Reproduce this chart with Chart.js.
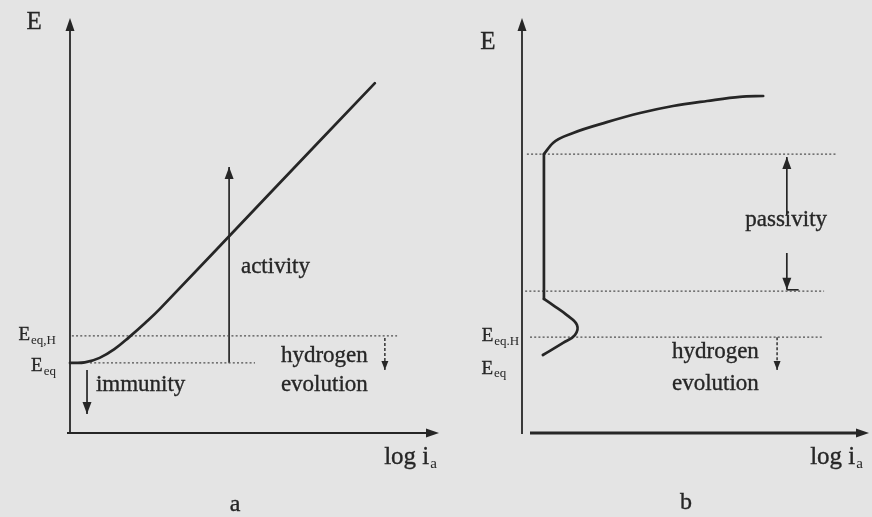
<!DOCTYPE html>
<html>
<head>
<meta charset="utf-8">
<script src="https://cdn.jsdelivr.net/npm/chart.js@4.4.1/dist/chart.umd.min.js"></script>
<style>
  html, body { margin: 0; padding: 0; background: #e4e4e4; }
  #wrap { position: relative; width: 872px; height: 517px; overflow: hidden; background: #e4e4e4; }
  canvas { position: absolute; top: 0; }
</style>
</head>
<body>
<div id="wrap">
  <canvas id="panelA" width="440" height="517" style="left:0px"></canvas>
  <canvas id="panelB" width="432" height="517" style="left:440px"></canvas>
</div>
<script>
// ---- Panel a: active metal (E vs log i_a) ----
const curveA_logI = [0, 0.4, 0.8, 1.2, 1.6, 2.03, 2.43, 5.32, 8.24];
const curveA_E    = [1.69, 1.70, 1.81, 2.02, 2.31, 2.65, 2.99, 5.70, 8.43];
const eqA  = 1.69;          // E_eq
const eqHA = 2.34;          // E_eq,H
const eqSpanA  = [0.54, 5.0];
const eqHSpanA = [0.05, 8.84];
const activityA = [4.30, 6.41];      // log i, top of arrow
const immunityA = [0.46, 1.52, 0.46]; // log i, from, to
const hydrogenA = [8.51, 2.29, 1.52];

// ---- Panel b: passivating metal ----
// points 0..6: active loop, 6..7: passive plateau, 7..end: transpassive branch
const curveB_logI = [0.60, 1.18, 1.52, 1.58, 1.29, 0.89, 0.63, 0.63, 0.89, 1.47, 2.44, 3.39, 4.34, 5.32, 6.26, 6.93];
const curveB_E    = [1.88, 2.17, 2.36, 2.60, 2.84, 3.08, 3.23, 6.72, 6.99, 7.23, 7.49, 7.71, 7.88, 8.00, 8.10, 8.12];
const passTopB = 6.72;
const passEndB = 3.42;
const eqHB     = 2.31;
const passTopSpanB = [0.14, 9.05];
const passEndSpanB = [0.09, 8.68];
const eqHSpanB     = [0.23, 8.62];
const passivityB = [7.61, 5.25, 6.65, 4.34, 3.45]; // log i, up-from, up-to, down-from, down-to
const passTickB  = [7.61, 7.95];
const hydrogenB  = [7.33, 2.31, 1.52];

const ink = '#262626';
const dotInk = '#4e4e4e';
const serif = '"Liberation Serif", "DejaVu Serif", serif';

function pts(xs, ys) { return xs.map((x, i) => ({ x, y: ys[i] })); }
function hline(y, span) { return [{ x: span[0], y }, { x: span[1], y }]; }
function vline(x, y0, y1) { return [{ x, y: y0 }, { x, y: y1 }]; }

function curve(data, tension, mode) {
  return { data, showLine: true, borderColor: ink, borderWidth: 2.7, pointRadius: 0,
           tension, cubicInterpolationMode: mode || 'default', clip: false,
           borderCapStyle: 'round', borderJoinStyle: 'round' };
}
function dotted(data) {
  return { data, showLine: true, borderColor: dotInk, borderWidth: 1.3, borderDash: [2, 2.2],
           pointRadius: 0, tension: 0, clip: false };
}
function arrow(data, dashed) {
  return { data, showLine: true, borderColor: ink, borderWidth: dashed ? 1.4 : 1.7,
           borderDash: dashed ? [3, 2] : [], pointRadius: 0, tension: 0, clip: false, arrow: true };
}

function arrowHead(ctx, x0, y0, x1, y1, len, half) {
  const a = Math.atan2(y1 - y0, x1 - x0);
  const c = Math.cos(a), s = Math.sin(a);
  ctx.save();
  ctx.fillStyle = ink;
  ctx.beginPath();
  ctx.moveTo(x1, y1);
  ctx.lineTo(x1 - len * c + half * s, y1 - len * s - half * c);
  ctx.lineTo(x1 - len * c - half * s, y1 - len * s + half * c);
  ctx.closePath();
  ctx.fill();
  ctx.restore();
}

function drawText(ctx, lab, px, py) {
  const size = lab.size, subSize = lab.subSize || Math.round(size * 0.62);
  ctx.font = `${size}px ${serif}`;
  const w1 = ctx.measureText(lab.text).width;
  let w2 = 0;
  if (lab.sub) { ctx.font = `${subSize}px ${serif}`; w2 = ctx.measureText(lab.sub).width; }
  const total = w1 + (lab.sub ? w2 + 1 : 0);
  let x0 = px;
  if (lab.align === 'center') x0 = px - total / 2;
  else if (lab.align === 'right') x0 = px - total;
  ctx.fillStyle = ink;
  ctx.strokeStyle = ink;
  ctx.lineWidth = 0.35;
  ctx.textBaseline = 'middle';
  ctx.textAlign = 'left';
  ctx.font = `${size}px ${serif}`;
  ctx.fillText(lab.text, x0, py);
  ctx.strokeText(lab.text, x0, py);
  if (lab.sub) {
    ctx.font = `${subSize}px ${serif}`;
    ctx.fillText(lab.sub, x0 + w1 + 1, py + size * 0.28);
  }
}

function figurePlugin(labels, axisStyle) {
  return {
    id: 'figure',
    beforeDatasetsDraw(chart) {
      const { ctx, chartArea: a } = chart;
      ctx.save();
      ctx.strokeStyle = ink;
      // vertical E axis
      ctx.lineWidth = axisStyle.yWidth;
      ctx.beginPath();
      ctx.moveTo(a.left, a.bottom + 1);
      ctx.lineTo(a.left, a.top + 8);
      ctx.stroke();
      arrowHead(ctx, a.left, a.bottom, a.left, a.top, 13, 4.5);
      // horizontal log i axis
      ctx.lineWidth = axisStyle.xWidth;
      ctx.beginPath();
      ctx.moveTo(a.left + axisStyle.xStart, a.bottom);
      ctx.lineTo(a.right - 8, a.bottom);
      ctx.stroke();
      arrowHead(ctx, a.left, a.bottom, a.right - 1, a.bottom, 13, 4.5);
      ctx.restore();
    },
    afterDatasetsDraw(chart) {
      const { ctx } = chart;
      const xs = chart.scales.x, ys = chart.scales.y;
      chart.data.datasets.forEach((ds, i) => {
        if (!ds.arrow) return;
        const el = chart.getDatasetMeta(i).data;
        const p0 = el[el.length - 2], p1 = el[el.length - 1];
        arrowHead(ctx, p0.x, p0.y, p1.x, p1.y, ds.borderDash.length ? 9 : 12, ds.borderDash.length ? 3.5 : 4.5);
      });
      ctx.save();
      labels.forEach(lab => drawText(ctx, lab, xs.getPixelForValue(lab.x), ys.getPixelForValue(lab.y)));
      ctx.restore();
    }
  };
}

function makePanel(id, datasets, labels, padding, axisStyle) {
  return new Chart(document.getElementById(id), {
    type: 'scatter',
    data: { datasets },
    options: {
      responsive: false,
      animation: false,
      devicePixelRatio: 1,
      layout: { padding },
      scales: {
        x: { type: 'linear', min: 0, max: 10, display: false },
        y: { type: 'linear', min: 0, max: 10, display: false }
      },
      plugins: { legend: { display: false }, tooltip: { enabled: false } },
      events: []
    },
    plugins: [figurePlugin(labels, axisStyle)]
  });
}

// Panel a
makePanel('panelA', [
  curve(pts(curveA_logI, curveA_E), 0.4),
  dotted(hline(eqHA, eqHSpanA)),
  dotted(hline(eqA, eqSpanA)),
  arrow(vline(activityA[0], eqA, activityA[1]), false),
  arrow(vline(immunityA[0], immunityA[1], immunityA[2]), false),
  arrow(vline(hydrogenA[0], hydrogenA[1], hydrogenA[2]), true)
], [
  { text: 'E', x: -0.97, y: 9.90, size: 25, align: 'center' },
  { text: 'activity', x: 4.62, y: 4.0, size: 23, align: 'left' },
  { text: 'immunity', x: 0.70, y: 1.16, size: 23, align: 'left' },
  { text: 'hydrogen', x: 5.70, y: 1.86, size: 23, align: 'left' },
  { text: 'evolution', x: 5.70, y: 1.16, size: 23, align: 'left' },
  { text: 'E', sub: 'eq,H', x: -0.38, y: 2.36, size: 19, subSize: 13, align: 'right' },
  { text: 'E', sub: 'eq', x: -0.38, y: 1.62, size: 19, subSize: 13, align: 'right' },
  { text: 'log i', sub: 'a', x: 8.49, y: -0.58, size: 25, subSize: 15, align: 'left' },
  { text: 'a', x: 4.46, y: -1.73, size: 24, align: 'center' }
], { left: 70, right: 0, top: 18, bottom: 84 }, { yWidth: 1.8, xWidth: 2.2, xStart: -3 });

// Panel b: the curve is drawn in three pieces so the passive plateau stays straight
const curveB = pts(curveB_logI, curveB_E);
makePanel('panelB', [
  curve(curveB.slice(0, 7), 0.4),
  curve(curveB.slice(6, 8), 0),
  curve(curveB.slice(7), 0, 'monotone'),
  dotted(hline(passTopB, passTopSpanB)),
  dotted(hline(passEndB, passEndSpanB)),
  dotted(hline(eqHB, eqHSpanB)),
  arrow(vline(passivityB[0], passivityB[1], passivityB[2]), false),
  arrow(vline(passivityB[0], passivityB[3], passivityB[4]), false),
  { data: hline(passivityB[4], passTickB), showLine: true, borderColor: ink, borderWidth: 1.6,
    pointRadius: 0, tension: 0, clip: false },
  arrow(vline(hydrogenB[0], hydrogenB[1], hydrogenB[2]), true)
], [
  { text: 'E', x: -0.98, y: 9.40, size: 25, align: 'center' },
  { text: 'passivity', x: 7.59, y: 5.13, size: 23, align: 'center' },
  { text: 'hydrogen', x: 4.31, y: 1.95, size: 23, align: 'left' },
  { text: 'evolution', x: 4.31, y: 1.18, size: 23, align: 'left' },
  { text: 'E', sub: 'eq.H', x: -0.08, y: 2.33, size: 19, subSize: 13, align: 'right' },
  { text: 'E', sub: 'eq', x: -0.45, y: 1.55, size: 19, subSize: 13, align: 'right' },
  { text: 'log i', sub: 'a', x: 8.28, y: -0.58, size: 25, subSize: 15, align: 'left' },
  { text: 'b', x: 4.71, y: -1.69, size: 24, align: 'center' }
], { left: 82, right: 2, top: 18, bottom: 84 }, { yWidth: 1.8, xWidth: 2.8, xStart: 8 });
</script>
</body>
</html>
